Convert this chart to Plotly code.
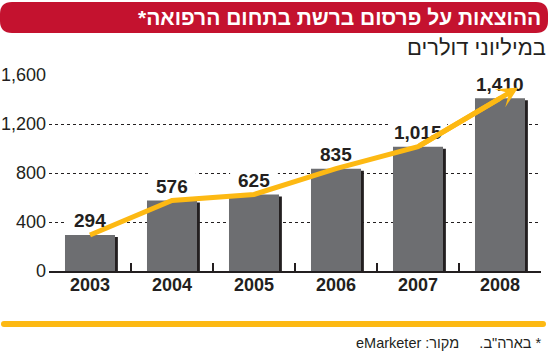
import plotly.graph_objects as go

# ---- data ----
years = ["2003", "2004", "2005", "2006", "2007", "2008"]
spend = [294, 576, 625, 835, 1015, 1410]
y_ticks = [0, 400, 800, 1200, 1600]
title_text = "ההוצאות על פרסום ברשת בתחום הרפואה*"
subtitle_text = "במיליוני דולרים"
note_text = "* בארה\"ב.\u00A0\u00A0\u00A0\u00A0 מקור: eMarketer"

# ---- style ----
W, H = 550, 354
ML, MR, MT, MB = 49, 9, 75, 83
PW, PH = W - ML - MR, H - MT - MB
RED = "#C4122F"
YELLOW = "#FDB913"
GRAY = "#6D6E71"
INK = "#231F20"
FONT = "Liberation Sans, Arial, sans-serif"
BAR_W = 0.61
YMAX = 1600
U_PER_PX = YMAX / PH


def px2x(px):
    return (px - ML) / PW


def py2y(py):
    return (H - MB - py) / PH


def rounded_path(x0, y0, x1, y1, r):
    X = lambda v: f"{px2x(v):.5f}"
    Y = lambda v: f"{py2y(v):.5f}"
    return (
        f"M{X(x0 + r)},{Y(y0)} L{X(x1 - r)},{Y(y0)} Q{X(x1)},{Y(y0)} {X(x1)},{Y(y0 + r)} "
        f"L{X(x1)},{Y(y1 - r)} Q{X(x1)},{Y(y1)} {X(x1 - r)},{Y(y1)} "
        f"L{X(x0 + r)},{Y(y1)} Q{X(x0)},{Y(y1)} {X(x0)},{Y(y1 - r)} "
        f"L{X(x0)},{Y(y0 + r)} Q{X(x0)},{Y(y0)} {X(x0 + r)},{Y(y0)} Z"
    )


fig = go.Figure()

# bar shadow
fig.add_trace(go.Bar(
    x=years, y=[v - 2 * U_PER_PX for v in spend], width=BAR_W,
    offset=-BAR_W / 2 + 0.035, marker=dict(color=INK, line=dict(width=0)),
    hoverinfo="skip", showlegend=False,
))
# bars
fig.add_trace(go.Bar(
    x=years, y=spend, width=BAR_W, offset=-BAR_W / 2,
    marker=dict(color=GRAY, line=dict(width=0)), showlegend=False,
))
# trend line
fig.add_trace(go.Scatter(
    x=years, y=spend, mode="lines", line=dict(color=YELLOW, width=5),
    cliponaxis=False, showlegend=False,
))

shapes = []
annotations = []

for i, v in enumerate(spend):
    ndig = len(str(v))
    half = (5.3 * ndig + 8) / (PW / len(years))
    shapes.append(dict(
        type="rect", xref="x", yref="y", layer="between",
        x0=i - half, x1=i + half, y0=v + 3 * U_PER_PX, y1=v + 33 * U_PER_PX,
        fillcolor="white", line=dict(width=0),
    ))
    annotations.append(dict(
        x=i, y=v, xref="x", yref="y", text=f"{v:,}", showarrow=False,
        yshift=14, yanchor="middle", xanchor="center",
        font=dict(family=FONT, size=19, color=INK, weight="bold"),
    ))

ext = 0.22
annotations.append(dict(
    x=len(spend) - 1 + ext, y=spend[-1] + ext * (spend[-1] - spend[-2]),
    ax=len(spend) - 2, ay=spend[-2], xref="x", yref="y", axref="x", ayref="y",
    text="", showarrow=True, arrowhead=3, arrowsize=0.7, arrowwidth=5,
    arrowcolor=YELLOW, standoff=0,
))

shapes.append(dict(
    type="path", xref="paper", yref="paper", path=rounded_path(0, 2, 548, 33, 12),
    fillcolor=RED, line=dict(width=0), layer="above",
))
annotations.append(dict(
    xref="paper", yref="paper", x=px2x(543), y=py2y(18), xanchor="right", yanchor="middle",
    text="\u202B" + title_text + "\u202C", showarrow=False,
    font=dict(family=FONT, size=21, color="white", weight="bold"),
))
annotations.append(dict(
    xref="paper", yref="paper", x=px2x(548), y=py2y(47.5), xanchor="right", yanchor="middle",
    text=subtitle_text, showarrow=False,
    font=dict(family=FONT, size=22, color=INK),
))
shapes.append(dict(
    type="path", xref="paper", yref="paper", path=rounded_path(1, 321, 546, 327, 3),
    fillcolor=YELLOW, line=dict(width=0), layer="above",
))
annotations.append(dict(
    xref="paper", yref="paper", x=px2x(544), y=py2y(343), xanchor="right", yanchor="middle",
    text="\u202B" + note_text + "\u202C", showarrow=False,
    font=dict(family=FONT, size=14.5, color=INK),
))

fig.update_layout(
    width=W, height=H, margin=dict(l=ML, r=MR, t=MT, b=MB, autoexpand=False),
    paper_bgcolor="white", plot_bgcolor="white",
    barmode="overlay", showlegend=False,
    shapes=shapes, annotations=annotations,
    xaxis=dict(
        type="category", showline=True, linecolor=INK, linewidth=2,
        ticks="inside", tickson="boundaries", ticklen=8, tickwidth=2, tickcolor=INK,
        showgrid=False, zeroline=False, automargin=False,
        tickfont=dict(family=FONT, size=18, color=INK, weight="bold"),
        ticklabelstandoff=-4, fixedrange=True,
    ),
    yaxis=dict(
        range=[0, YMAX], tickvals=y_ticks, tickformat=",",
        showgrid=True, gridcolor=INK, gridwidth=1, griddash="dot",
        zeroline=False, showline=False, ticks="", automargin=False,
        tickfont=dict(family=FONT, size=18, color=INK),
        ticklabelstandoff=2, fixedrange=True,
    ),
)

fig.write_html("out.html")
